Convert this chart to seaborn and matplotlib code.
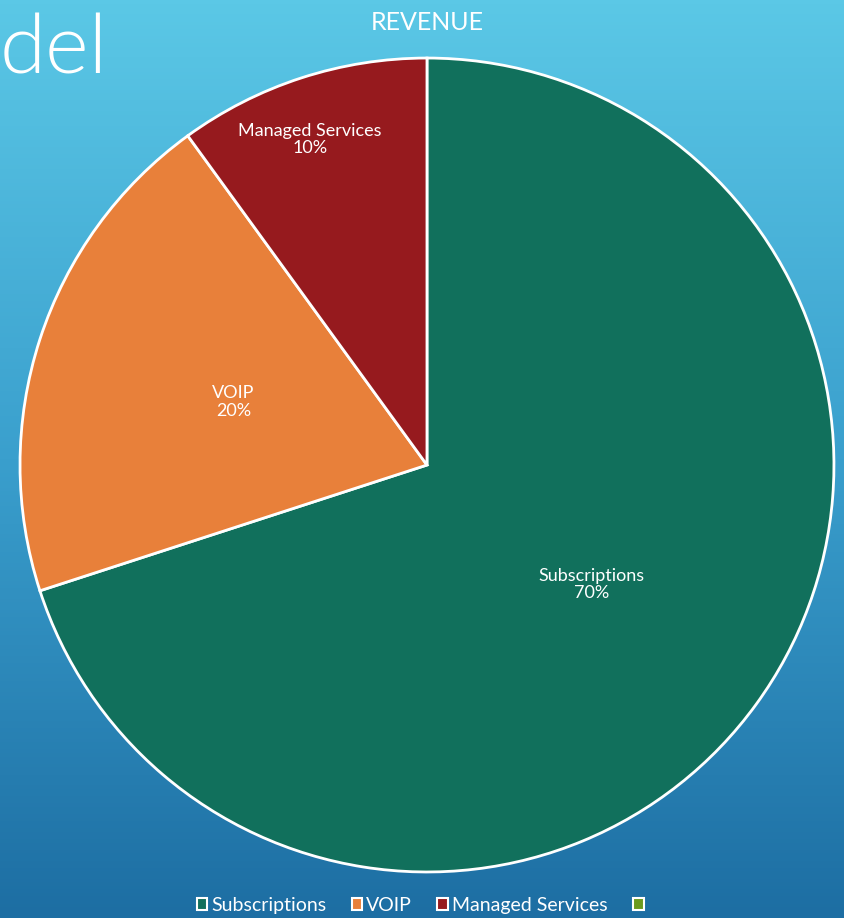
import matplotlib.pyplot as plt
import seaborn as sns
import numpy as np
from matplotlib.patches import Patch
from matplotlib.colors import LinearSegmentedColormap

# revenue split
categories = ['Subscriptions', 'VOIP', 'Managed Services']
shares = [70, 20, 10]
legend_labels = ['Subscriptions', 'VOIP', 'Managed Services', '']

sns.set_style('white')
plt.rcParams['font.family'] = ['Lato', 'DejaVu Sans']

colors = sns.color_palette(['#11705C', '#E8803A', '#961A1E', '#6B9A1F'])

fig = plt.figure(figsize=(8.44, 9.18), dpi=100)

# background gradient
bg = fig.add_axes([0, 0, 1, 1])
grad = np.linspace(0, 1, 256).reshape(-1, 1)
cmap = LinearSegmentedColormap.from_list('bg', ['#5BC8E6', '#3A9FCD', '#1D6EA3'])
bg.imshow(grad, aspect='auto', cmap=cmap, extent=[0, 1, 0, 1], origin='upper')
bg.axis('off')

ax = fig.add_axes([0.0213, 0.0479, 0.9692, 0.8911])
wedges, texts, autotexts = ax.pie(
    shares, colors=colors[:3], startangle=90, counterclock=False,
    autopct='%1.0f%%', pctdistance=0.5,
    wedgeprops=dict(edgecolor='white', linewidth=2),
    textprops=dict(color='white', fontsize=13))
for t, name in zip(autotexts, categories):
    t.set_text(name + '\n' + t.get_text())
    t.set_linespacing(1.1)
# the small slice label sits further out
autotexts[2].set_position((-0.287, 0.80))
ax.set_xlim(-1.005, 1.005)
ax.set_ylim(-1.005, 1.005)
ax.set_aspect('equal')
ax.axis('off')

fig.text(0.506, 0.976, 'REVENUE', color='white', fontsize=18, ha='center', va='center')
fig.text(0.0, 0.945, 'del', color='white', fontsize=60, ha='left', va='center',
         fontweight=300)

handles = [Patch(facecolor=c, edgecolor='white', linewidth=1.5) for c in colors]
fig.legend(handles, legend_labels, loc='center', bbox_to_anchor=(0.5, 0.014),
           ncol=4, frameon=False, fontsize=14, labelcolor='white',
           handlelength=0.55, handleheight=0.55, handletextpad=0.2, columnspacing=1.3)

fig.savefig('out.png', dpi=100)
